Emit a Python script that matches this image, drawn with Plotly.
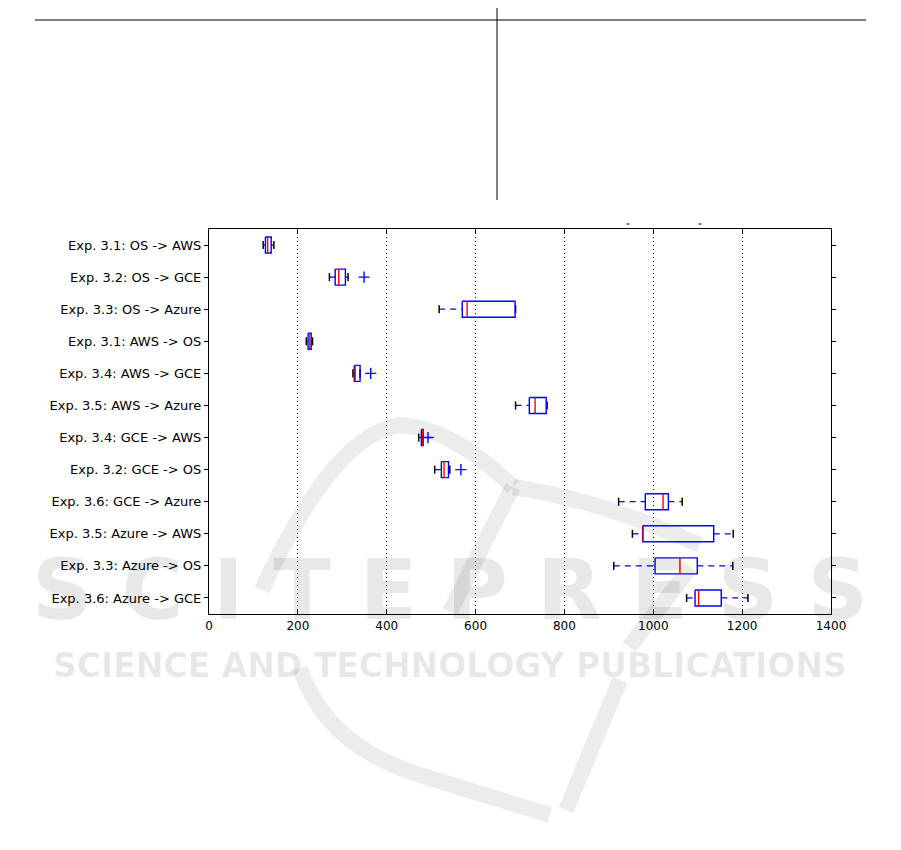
import plotly.graph_objects as go

# ---------------- data ----------------
labels = [
    "Exp. 3.1: OS -> AWS",
    "Exp. 3.2: OS -> GCE",
    "Exp. 3.3: OS -> Azure",
    "Exp. 3.1: AWS -> OS",
    "Exp. 3.4: AWS -> GCE",
    "Exp. 3.5: AWS -> Azure",
    "Exp. 3.4: GCE -> AWS",
    "Exp. 3.2: GCE -> OS",
    "Exp. 3.6: GCE -> Azure",
    "Exp. 3.5: Azure -> AWS",
    "Exp. 3.3: Azure -> OS",
    "Exp. 3.6: Azure -> GCE",
]
whisker_low = [122, 271, 518, 219, 324, 690, 472, 508, 922, 953, 911, 1075]
q1 = [127, 284, 570, 223, 327, 721, 478, 523, 982, 976, 1004, 1094]
median = [132, 292, 581, 227, 329, 734, 481, 529, 1022, 977, 1060, 1102]
q3 = [140, 307, 689, 230, 340, 759, 482, 539, 1034, 1136, 1099, 1153]
whisker_high = [146, 313, 690, 233, 340, 761, 482, 542, 1065, 1180, 1179, 1213]
outlier_rows = [2, 5, 7, 8]
outlier_values = [349, 364, 493, 567]
x_ticks = [0, 200, 400, 600, 800, 1000, 1200, 1400]

BOX_HALF = 0.25
CAP_HALF = 0.125
BLUE = "#0000ff"
RED = "#ff0000"

rows = list(range(1, len(labels) + 1))

box_x, box_y = [], []
med_x, med_y = [], []
wh_x, wh_y = [], []
cap_x, cap_y = [], []
for r, lo, a, m, b, hi in zip(rows, whisker_low, q1, median, q3, whisker_high):
    box_x += [a, b, b, a, a, None]
    box_y += [r - BOX_HALF, r - BOX_HALF, r + BOX_HALF, r + BOX_HALF, r - BOX_HALF, None]
    med_x += [m, m, None]
    med_y += [r - BOX_HALF, r + BOX_HALF, None]
    if lo < a:
        wh_x += [lo, a, None]
        wh_y += [r, r, None]
    if hi > b:
        wh_x += [b, hi, None]
        wh_y += [r, r, None]
    cap_x += [lo, lo, None, hi, hi, None]
    cap_y += [r - CAP_HALF, r + CAP_HALF, None, r - CAP_HALF, r + CAP_HALF, None]

fig = go.Figure()
fig.add_trace(go.Scatter(x=wh_x, y=wh_y, mode="lines",
                         line=dict(color=BLUE, width=1.3, dash="6px,5px"),
                         hoverinfo="skip", showlegend=False))
fig.add_trace(go.Scatter(x=cap_x, y=cap_y, mode="lines",
                         line=dict(color="black", width=1.5),
                         hoverinfo="skip", showlegend=False))
fig.add_trace(go.Scatter(x=box_x, y=box_y, mode="lines",
                         line=dict(color=BLUE, width=1.4),
                         hoverinfo="skip", showlegend=False))
fig.add_trace(go.Scatter(x=med_x, y=med_y, mode="lines",
                         line=dict(color=RED, width=1.4),
                         hoverinfo="skip", showlegend=False))
fig.add_trace(go.Scatter(x=outlier_values, y=outlier_rows, mode="markers",
                         marker=dict(symbol="cross-thin", size=8,
                                     line=dict(color=BLUE, width=1.4)),
                         hoverinfo="skip", showlegend=False))

# target plot area in window pixels: x 209..831, y 229..614
# (the page body adds an 8px offset)
OFF = 8
L, R, T, B = 209, 831, 229, 614
W, H = R - L, B - T


def px(x):
    return (x - L) / W


def py(y):
    return (B - y) / H


shapes = []
# remnants of the surrounding page
shapes.append(dict(type="line", xref="paper", yref="paper",
                   x0=px(35), x1=px(866), y0=py(20), y1=py(20),
                   line=dict(color="black", width=1)))
shapes.append(dict(type="line", xref="paper", yref="paper",
                   x0=px(497), x1=px(497), y0=py(0), y1=py(200),
                   line=dict(color="black", width=1)))
for xx in (628, 700):
    shapes.append(dict(type="line", xref="paper", yref="paper",
                       x0=px(xx - 1.5), x1=px(xx + 1.5), y0=py(224), y1=py(224),
                       line=dict(color="black", width=1)))


# faint publisher logo watermark (rough swoosh)
def path(pts):
    d = "M {} {}".format(px(pts[0][0]), py(pts[0][1]))
    for i in range(1, len(pts) - 1, 2):
        d += " Q {} {} {} {}".format(px(pts[i][0]), py(pts[i][1]),
                                     px(pts[i + 1][0]), py(pts[i + 1][1]))
    return d


wm = "rgba(0,0,0,0.075)"
for pts in (
    [(262, 590), (335, 430), (403, 425), (455, 430), (513, 487)],
    [(513, 487), (600, 500), (700, 545)],
    [(513, 487), (480, 550), (450, 612)],
    [(300, 668), (325, 745), (420, 775), (500, 800), (550, 815)],
    [(620, 680), (593, 745), (566, 810)],
    [(691, 567), (660, 607), (629, 647)],
):
    shapes.append(dict(type="path", xref="paper", yref="paper", path=path(pts),
                       line=dict(color=wm, width=16), layer="below"))

annotations = [
    dict(text="<b>S C I T E P R E S S</b>", xref="paper", yref="paper",
         x=px(450), y=py(590), showarrow=False,
         font=dict(family="DejaVu Sans", size=84, color="rgba(0,0,0,0.09)"),
         xanchor="center", yanchor="middle"),
    dict(text="<b>SCIENCE AND TECHNOLOGY PUBLICATIONS</b>", xref="paper", yref="paper",
         x=px(450), y=py(665), showarrow=False,
         font=dict(family="DejaVu Sans", size=33, color="rgba(0,0,0,0.09)"),
         xanchor="center", yanchor="middle"),
]

fig.update_layout(
    width=901, height=850,
    margin=dict(l=L - OFF, r=901 - R + OFF, t=T - OFF, b=850 - B + OFF, pad=0),
    paper_bgcolor="white",
    plot_bgcolor="rgba(0,0,0,0)",
    font=dict(family="DejaVu Sans", size=13, color="black"),
    shapes=shapes,
    annotations=annotations,
    xaxis=dict(
        range=[x_ticks[0], x_ticks[-1]],
        tickvals=x_ticks,
        ticktext=[str(v) for v in x_ticks],
        showgrid=True, gridcolor="black", gridwidth=1, griddash="1px,3px",
        zeroline=False,
        showline=True, linecolor="black", linewidth=1.2, mirror="ticks",
        ticks="inside", ticklen=4, tickcolor="black",
        tickfont=dict(size=12),
    ),
    yaxis=dict(
        range=[len(labels) + 0.5, 0.5],
        tickvals=rows,
        ticktext=labels,
        showgrid=False, zeroline=False,
        showline=True, linecolor="black", linewidth=1.2, mirror="ticks",
        ticks="outside", ticklen=4, tickcolor="black",
        tickfont=dict(size=13),
    ),
)

fig.write_html("out.html")
